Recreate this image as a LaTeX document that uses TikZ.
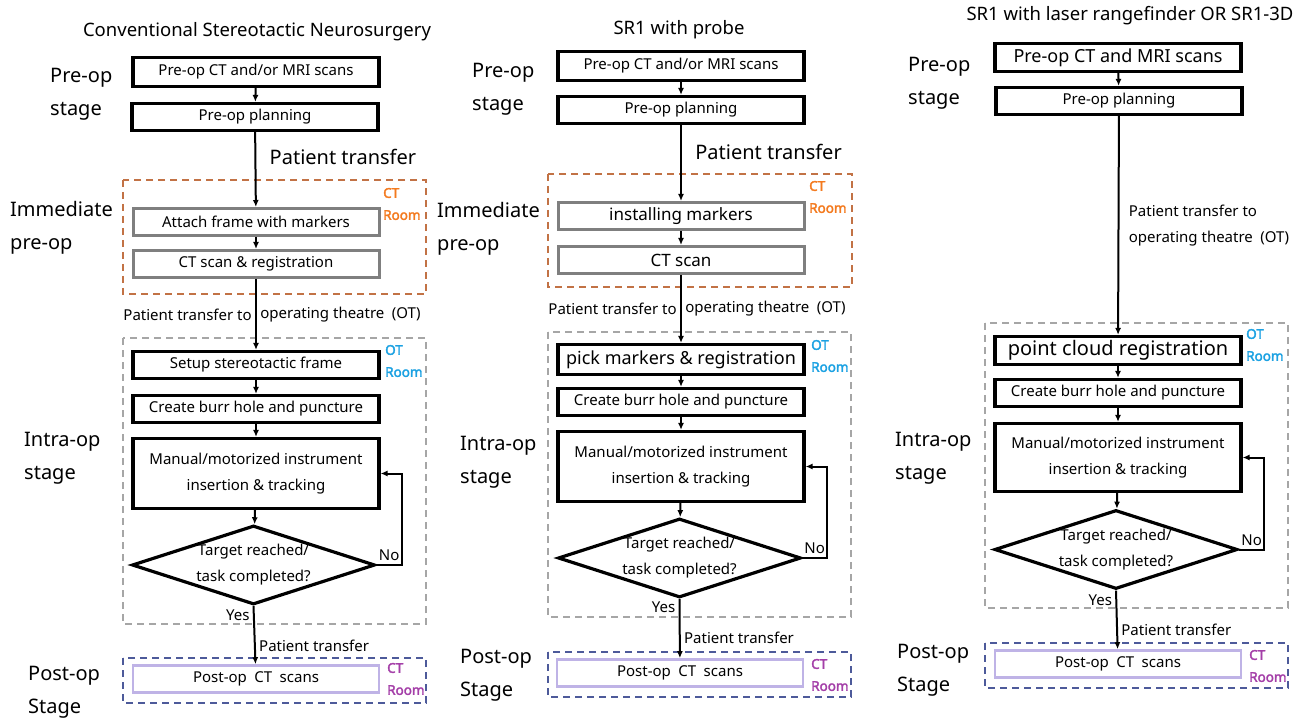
\documentclass[tikz,border=0pt]{standalone}
\usepackage{fontspec}
\setmainfont{Noto Sans}
\newfontfamily\roomfont{Noto Sans}[FakeBold=2.5]
\usepackage{tikz}
\usetikzlibrary{positioning,arrows.meta,shapes.geometric}
\definecolor{CTorange}{HTML}{F37A1F}
\definecolor{CTframe}{HTML}{C27245}
\definecolor{OTblue}{HTML}{1BA1E2}
\definecolor{OTframe}{HTML}{A6A6A6}
\definecolor{POSTpurple}{HTML}{A43FA8}
\definecolor{POSTframe}{HTML}{4D5A9A}
\definecolor{BoxGrey}{HTML}{7F7F7F}
\definecolor{Lavender}{HTML}{BFB3E6}
\tikzset{
  stepbox/.style={draw,line width=3.2pt,minimum width=246pt,minimum height=27pt,inner sep=2pt,align=center,font=\fontsize{15}{26}\selectfont},
  greybox/.style={stepbox,draw=BoxGrey,line width=3pt},
  postbox/.style={stepbox,draw=Lavender,line width=2.6pt},
  dia/.style={draw,diamond,aspect=3,line width=3.2pt,minimum width=243pt,minimum height=79pt,inner sep=0pt},
  arr/.style={-{Latex[length=7pt,width=6pt]},line width=2pt},
  lbl/.style={font=\fontsize{15}{26}\selectfont,align=left},
  biglbl/.style={font=\fontsize{20}{24}\selectfont},
  stage/.style={font=\fontsize{20}{33}\selectfont,align=left,anchor=base west,inner sep=0pt},
  title/.style={font=\fontsize{18.5}{20}\selectfont},
  room/.style={font=\roomfont\fontsize{13.5}{22}\selectfont,align=left,anchor=west,inner sep=0pt},
  ctframe/.style={draw=CTframe,line width=1.6pt,dash pattern=on 7pt off 5pt},
  otframe/.style={draw=OTframe,line width=1.6pt,dash pattern=on 7pt off 5pt},
  postframe/.style={draw=POSTframe,line width=1.6pt,dash pattern=on 7pt off 5pt},
}
\begin{document}
\begin{tikzpicture}[x=1pt,y=-1pt]
\useasboundingbox (0,0) rectangle (1314,719);

% column 1: conventional
\node[title] (tit1) at (257,32) {Conventional Stereotactic Neurosurgery};
\node[stage] (pre1) at (50,116) {Pre-op\\stage};
\node[stage] (imm1) at (10,250) {Immediate\\pre-op};
\node[stage] (intra1) at (24,479) {Intra-op\\stage};
\node[stage] (postop1) at (28,713) {Post-op\\Stage};
\draw[ctframe] (123,180) rectangle (426,294);
\draw[otframe] (123,338) rectangle (426,624);
\draw[postframe] (123,658) rectangle (426,703);
\node[room,text=CTorange] (ctr1) at (383,204) {CT\\Room};
\node[room,text=OTblue] (otr1) at (385,361) {OT\\Room};
\node[room,text=POSTpurple] (pcr1) at (387,679) {CT\\Room};
\node[stepbox,minimum height=29pt] (scan1) at (256,72) {Pre-op CT and/or MRI scans};
\node[stepbox] (plan1) at (255,117) {Pre-op planning};
\node[greybox] (att1) at (256,222) {Attach frame with markers};
\node[greybox] (ct1) at (256,264) {CT scan \& registration};
\node[stepbox] (setup1) at (256,365) {Setup stereotactic frame};
\node[stepbox] (burr1) at (256,409) {Create burr hole and puncture};
\node[stepbox,minimum height=70pt] (man1) at (256,473.5) {Manual/motorized instrument\\insertion \& tracking};
\node[dia] (tgt1) at (253.5,565) {};
\node[lbl,align=center] (tgt1t) at (tgt1) {Target reached/\\task completed?};
\node[postbox] (post1) at (256,679) {Post-op\enspace CT\enspace scans};
\draw[arr] (scan1) -- (plan1);
\draw[arr] (plan1) -- node[pos=0.33,right,biglbl,xshift=10pt] {Patient transfer} (att1);
\draw[arr] (att1) -- (ct1);
\draw[arr] (ct1) -- node[pos=0.5,left,lbl] {Patient transfer to} node[pos=0.5,right,lbl] {operating theatre\enspace(OT)} (setup1);
\draw[arr] (setup1) -- (burr1);
\draw[arr] (burr1) -- (man1);
\draw[arr] (man1) -- (tgt1);
\draw[arr] (tgt1.east) -- node[above,lbl,pos=0.5] {No} ++(25,0) |- (man1.east);
\draw[arr] (tgt1.south) -- node[pos=0.16,left,lbl] {Yes} node[pos=0.68,right,lbl] {Patient transfer} (post1);

% column 2: SR1 with probe
\node[title] (tit2) at (679,30) {SR1 with probe};
\node[stage] (pre2) at (472,111) {Pre-op\\stage};
\node[stage] (imm2) at (437,251) {Immediate\\pre-op};
\node[stage] (intra2) at (460,483) {Intra-op\\stage};
\node[stage] (postop2) at (460,696) {Post-op\\Stage};
\draw[ctframe] (548,174) rectangle (852,287);
\draw[otframe] (548,332) rectangle (851,617);
\draw[postframe] (548,652) rectangle (851,697);
\node[room,text=CTorange] (ctr2) at (809,197) {CT\\Room};
\node[room,text=OTblue] (otr2) at (811,356) {OT\\Room};
\node[room,text=POSTpurple] (pcr2) at (811,675) {CT\\Room};
\node[stepbox,minimum height=29pt] (scan2) at (681,66) {Pre-op CT and/or MRI scans};
\node[stepbox] (plan2) at (681,110) {Pre-op planning};
\node[greybox,font=\fontsize{17}{20}\selectfont] (inst2) at (681,216) {installing markers};
\node[greybox,font=\fontsize{17}{20}\selectfont] (ct2) at (681,260) {CT scan};
\node[stepbox,minimum height=30pt,font=\fontsize{18}{20}\selectfont] (pick2) at (681,359.5) {pick markers \& registration};
\node[stepbox] (burr2) at (681,402) {Create burr hole and puncture};
\node[stepbox,minimum height=70pt] (man2) at (681,466.5) {Manual/motorized instrument\\insertion \& tracking};
\node[dia] (tgt2) at (679.5,558) {};
\node[lbl,align=center] (tgt2t) at (tgt2) {Target reached/\\task completed?};
\node[postbox] (post2) at (680,673) {Post-op\enspace CT\enspace scans};
\draw[arr] (scan2) -- (plan2);
\draw[arr] (plan2) -- node[pos=0.36,right,biglbl,xshift=10pt] {Patient transfer} (inst2);
\draw[arr] (inst2) -- (ct2);
\draw[arr] (ct2) -- node[pos=0.5,left,lbl] {Patient transfer to} node[pos=0.5,right,lbl] {operating theatre\enspace(OT)} (pick2);
\draw[arr] (pick2) -- (burr2);
\draw[arr] (burr2) -- (man2);
\draw[arr] (man2) -- (tgt2);
\draw[arr] (tgt2.east) -- node[above,lbl,pos=0.5] {No} ++(24,0) |- (man2.east);
\draw[arr] (tgt2.south) -- node[pos=0.14,left,lbl] {Yes} node[pos=0.66,right,lbl] {Patient transfer} (post2);

% column 3: SR1 with laser rangefinder
\node[title] (tit3) at (1130,16) {SR1 with laser rangefinder OR SR1-3D};
\node[stage] (pre3) at (908,105) {Pre-op\\stage};
\node[stage] (intra3) at (895,479) {Intra-op\\stage};
\node[stage] (postop3) at (897,691) {Post-op\\Stage};
\draw[otframe] (985,323) rectangle (1288,608);
\draw[postframe] (985,643) rectangle (1288,688);
\node[room,text=OTblue] (otr3) at (1246,345) {OT\\Room};
\node[room,text=POSTpurple] (pcr3) at (1249,666) {CT\\Room};
\node[stepbox,minimum height=28pt,font=\fontsize{18}{20}\selectfont] (scan3) at (1118,57.5) {Pre-op CT and MRI scans};
\node[stepbox] (plan3) at (1119,101) {Pre-op planning};
\node[stepbox,minimum height=28pt,font=\fontsize{20}{22}\selectfont] (pcr3b) at (1118,350.5) {point cloud registration};
\node[stepbox] (burr3) at (1118,393) {Create burr hole and puncture};
\node[stepbox,minimum height=68pt] (man3) at (1118,457.5) {Manual/motorized instrument\\insertion \& tracking};
\node[dia] (tgt3) at (1116,549.5) {};
\node[lbl,align=center] (tgt3t) at (tgt3) {Target reached/\\task completed?};
\node[postbox] (post3) at (1118,664) {Post-op\enspace CT\enspace scans};
\draw[arr] (scan3) -- (plan3);
\draw[arr] (plan3) -- node[pos=0.5,right,lbl,xshift=6pt] {Patient transfer to\\operating theatre\enspace(OT)} (pcr3b);
\draw[arr] (pcr3b) -- (burr3);
\draw[arr] (burr3) -- (man3);
\draw[arr] (man3) -- (tgt3);
\draw[arr] (tgt3.east) -- node[above,lbl,pos=0.5] {No} ++(25,0) |- (man3.east);
\draw[arr] (tgt3.south) -- node[pos=0.16,left,lbl] {Yes} node[pos=0.67,right,lbl] {Patient transfer} (post3);
\end{tikzpicture}
\end{document}
